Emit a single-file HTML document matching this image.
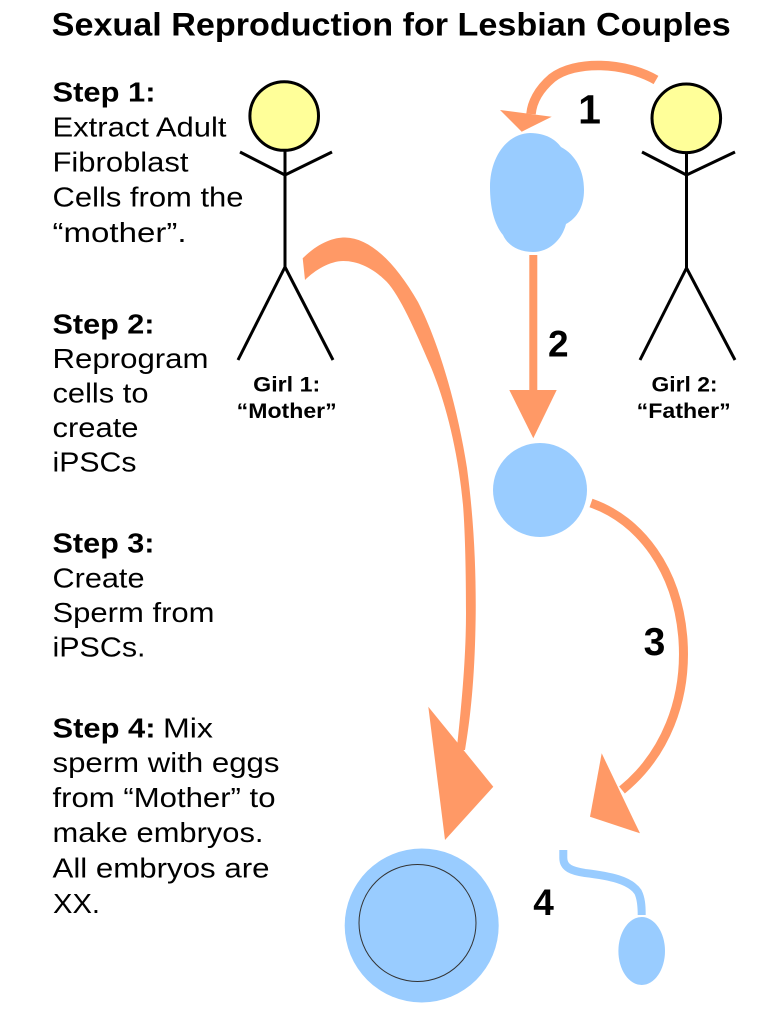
<!DOCTYPE html>
<html>
<head>
<meta charset="utf-8">
<style>
  html, body { margin:0; padding:0; background:#fff; }
  svg { display:block; }
  text { font-family: "Liberation Sans", Arial, sans-serif; fill:#000; }
  .b { font-weight:bold; }
</style>
</head>
<body>
<svg width="780" height="1017" viewBox="0 0 780 1017" xmlns="http://www.w3.org/2000/svg">
  <rect width="780" height="1017" fill="#fff"/>

  <!-- Title -->
  <text class="b" x="51.7" y="35.7" font-size="32" textLength="679" lengthAdjust="spacingAndGlyphs">Sexual Reproduction for Lesbian Couples</text>

  <!-- Step 1 -->
  <g font-size="28">
    <text class="b" x="52.5" y="101.7" textLength="103" lengthAdjust="spacingAndGlyphs">Step 1:</text>
    <text x="52.5" y="136.7" textLength="174" lengthAdjust="spacingAndGlyphs">Extract Adult</text>
    <text x="52.5" y="171.7" textLength="136" lengthAdjust="spacingAndGlyphs">Fibroblast</text>
    <text x="52.5" y="206.7" textLength="191" lengthAdjust="spacingAndGlyphs">Cells from the</text>
    <text x="52.5" y="242" textLength="134" lengthAdjust="spacingAndGlyphs">“mother”.</text>

    <!-- Step 2 -->
    <text class="b" x="52.5" y="333.5" textLength="102" lengthAdjust="spacingAndGlyphs">Step 2:</text>
    <text x="52.5" y="368" textLength="156" lengthAdjust="spacingAndGlyphs">Reprogram</text>
    <text x="52.5" y="402.5" textLength="96" lengthAdjust="spacingAndGlyphs">cells to</text>
    <text x="52.5" y="437" textLength="86" lengthAdjust="spacingAndGlyphs">create</text>
    <text x="52.5" y="471.5" textLength="84" lengthAdjust="spacingAndGlyphs">iPSCs</text>

    <!-- Step 3 -->
    <text class="b" x="52.5" y="552.7" textLength="102" lengthAdjust="spacingAndGlyphs">Step 3:</text>
    <text x="52.5" y="587.3" textLength="92" lengthAdjust="spacingAndGlyphs">Create</text>
    <text x="52.5" y="621.9" textLength="162" lengthAdjust="spacingAndGlyphs">Sperm from</text>
    <text x="52.5" y="656.7" textLength="93" lengthAdjust="spacingAndGlyphs">iPSCs.</text>

    <!-- Step 4 -->
    <text class="b" x="52.5" y="737.3" textLength="103" lengthAdjust="spacingAndGlyphs">Step 4:</text>
    <text x="163" y="737.3" textLength="50" lengthAdjust="spacingAndGlyphs">Mix</text>
    <text x="52.5" y="772" textLength="227" lengthAdjust="spacingAndGlyphs">sperm with eggs</text>
    <text x="52.5" y="806.9" textLength="223" lengthAdjust="spacingAndGlyphs">from “Mother” to</text>
    <text x="52.5" y="841.9" textLength="211" lengthAdjust="spacingAndGlyphs">make embryos.</text>
    <text x="52.5" y="877.6" textLength="217" lengthAdjust="spacingAndGlyphs">All embryos are</text>
    <text x="53" y="913" textLength="47" lengthAdjust="spacingAndGlyphs">XX.</text>
  </g>

  <!-- Girl 1 stick figure -->
  <g stroke="#000" stroke-width="3" fill="none" stroke-linecap="butt">
    <line x1="285" y1="151" x2="285" y2="267"/>
    <line x1="285" y1="175" x2="240" y2="152"/>
    <line x1="285" y1="175" x2="332" y2="152"/>
    <line x1="285" y1="267" x2="238" y2="360"/>
    <line x1="285" y1="267" x2="333" y2="360"/>
  </g>
  <circle cx="284.2" cy="116" r="34.3" fill="#FFFF99" stroke="#000" stroke-width="3"/>
  <text class="b" x="286.7" y="391.7" font-size="21" text-anchor="middle" textLength="67" lengthAdjust="spacingAndGlyphs">Girl 1:</text>
  <text class="b" x="286.7" y="418" font-size="21" text-anchor="middle" textLength="100" lengthAdjust="spacingAndGlyphs">“Mother”</text>

  <!-- Girl 2 stick figure -->
  <g stroke="#000" stroke-width="3" fill="none" stroke-linecap="butt">
    <line x1="686.5" y1="151" x2="686.5" y2="268"/>
    <line x1="686.5" y1="175" x2="642" y2="152"/>
    <line x1="686.5" y1="175" x2="735" y2="152"/>
    <line x1="686.5" y1="268" x2="640" y2="360"/>
    <line x1="686.5" y1="268" x2="735" y2="360"/>
  </g>
  <circle cx="686.3" cy="118.3" r="34.3" fill="#FFFF99" stroke="#000" stroke-width="3"/>
  <text class="b" x="684.5" y="391.7" font-size="21" text-anchor="middle" textLength="66" lengthAdjust="spacingAndGlyphs">Girl 2:</text>
  <text class="b" x="683.7" y="418" font-size="21" text-anchor="middle" textLength="94" lengthAdjust="spacingAndGlyphs">“Father”</text>

  <!-- Arrow 1 -->
  <path d="M656,80 C625,62 575,60 552,78 C538,90 532,103 531,114" fill="none" stroke="#FF9966" stroke-width="9.5"/>
  <polygon points="500,110 551.7,116.7 521.7,131.7" fill="#FF9966"/>
  <text class="b" x="589.5" y="123.3" font-size="41" text-anchor="middle">1</text>

  <!-- Blob cell (fibroblast) -->
  <path d="M530,133 C546,133 556,140 561,147 C576,155 584,171 584,190 C584,207 577,218 566,224 C562,240 549,252 533,252 C517,252 507,244 503,235 C494,224 490,207 490,187 C490,158 506,134 530,133 Z" fill="#99CCFF"/>

  <!-- Arrow 2 -->
  <line x1="533.3" y1="255" x2="533.3" y2="392" stroke="#FF9966" stroke-width="8"/>
  <polygon points="509.3,390 556.7,390 533.3,438.3" fill="#FF9966"/>
  <text class="b" x="558.3" y="356.7" font-size="37" text-anchor="middle">2</text>

  <!-- iPSC circle -->
  <circle cx="540" cy="490" r="47" fill="#99CCFF"/>

  <!-- Arrow 3 -->
  <path d="M591,503 C640,520 678,570 683,640 C687,700 665,755 622,790" fill="none" stroke="#FF9966" stroke-width="9"/>
  <polygon points="601.7,753.3 640,833.3 590,816.7" fill="#FF9966"/>
  <text class="b" x="654.5" y="655" font-size="39" text-anchor="middle">3</text>

  <!-- Big arrow from Mother -->
  <path d="M302.7,258.3 C318,243 333,237.5 345,237.5 C370,238 395,262 418,302 C440,345 458,410 467,468 C474,520 476,570 475.7,613 C475,680 470,720 465,750 L456.7,750 C461,710 466,660 466,613 C466,570 465,530 463,505 C458,450 445,400 430,365 C415,330 400,296 386.7,281.7 C375,270 360,261 343.3,261 C330,261 315,270 305,280 Z" fill="#FF9966"/>
  <polygon points="428.3,706.7 493.3,786.7 445,840" fill="#FF9966"/>

  <!-- Egg -->
  <circle cx="421.7" cy="925.5" r="77" fill="#99CCFF"/>
  <circle cx="417.5" cy="923" r="58.5" fill="#99CCFF" stroke="#333" stroke-width="1"/>

  <!-- 4 -->
  <text class="b" x="543.5" y="915" font-size="37" text-anchor="middle">4</text>

  <!-- Sperm -->
  <path d="M563.3,850 L563.3,858 C563.3,868 572,871 585,873 C610,876 630,880 638,892 C641,898 641.7,905 641.7,915" fill="none" stroke="#99CCFF" stroke-width="8"/>
  <ellipse cx="641.7" cy="951" rx="23.3" ry="34" fill="#99CCFF"/>
</svg>
</body>
</html>
